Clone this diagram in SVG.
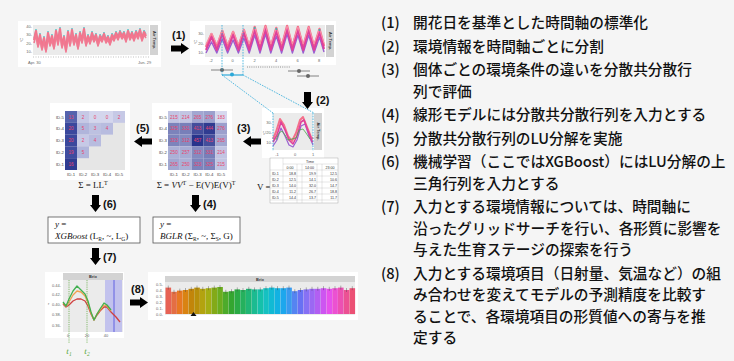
<svg xmlns="http://www.w3.org/2000/svg" width="734" height="361" viewBox="0 0 734 361">
<defs>
<style>
.bg{fill:#f5f5f5}
.panel{fill:#fff}
.plot{fill:#ebebeb}
.strip{fill:#d3d3d3}
.tick{font-family:"Liberation Sans",Arial,sans-serif;font-size:4px;fill:#666}
.stxt{font-family:"Liberation Sans",Arial,sans-serif;font-size:4px;font-weight:bold;fill:#333}
.lbl{font-family:"Liberation Sans",Arial,sans-serif;font-size:11px;font-weight:bold;fill:#111}
.jp{font-family:"Noto Sans CJK JP","Noto Sans CJK SC",sans-serif;font-size:14.7px;font-weight:500;fill:#111}
.cv{font-family:"Liberation Sans",Arial,sans-serif;font-size:4.6px;fill:#e8436c;text-anchor:middle}
.id{font-family:"Liberation Sans",Arial,sans-serif;font-size:4.3px;fill:#444}
.math{font-family:"Liberation Serif","Times New Roman",serif;font-size:9px;fill:#111}
.mi{font-style:italic}
.bdot{stroke:#2ba8d8;stroke-width:0.8;stroke-dasharray:1.6 1.1;fill:none}
.tb{font-family:"Liberation Sans",Arial,sans-serif;font-size:3.6px;fill:#333}
.ln{fill:none;stroke-linejoin:round}
</style>
<path id="arR" d="M0,2.5 H10 V0 L18,5.5 L10,11 V8.5 H0 Z"/>
<path id="arD" d="M2,0 H9 V10 H11 L5.5,17 L0,10 H2 Z"/>
</defs>
<rect class="bg" x="0" y="0" width="734" height="361"/>

<!-- (1) raw time series panel -->
<g id="panel-raw">
<rect class="panel" x="18" y="21" width="143" height="46"/>
<rect class="plot" x="33" y="25" width="116" height="30"/>
<rect class="strip" x="150" y="25" width="8" height="30"/>
<text class="stxt" transform="translate(152.5,40) rotate(90)" text-anchor="middle">Air Temp.</text>
<text class="tick" x="32" y="27.5" text-anchor="end">40-</text>
<text class="tick" x="32" y="36" text-anchor="end">30-</text>
<text class="tick" x="32" y="44.5" text-anchor="end">20-</text>
<text class="tick" x="32" y="53" text-anchor="end">10-</text>
<text class="tick" transform="translate(23,40) rotate(-90)" text-anchor="middle">°C</text>
<polyline class="ln" stroke="#5ec4c9" stroke-width="1" points="34,38 36,29 38,43 40,33 42,46 44,36 46,48 48,31 50,42 52,34 54,45 56,29 58,40 60,27 62,44 64,35 66,48 68,30 70,42 72,28 74,41 76,33 78,45 80,31 82,39 84,27 86,42 88,34 90,40 92,31 94,38 96,33 98,42 100,34 102,38 104,32 106,39 108,35 110,41 112,33 114,37 116,31 118,36 120,30 122,35 124,31 126,38 128,29 130,36 132,31 134,37 136,30 138,35 140,28 142,37 144,30 146,34"/>
<polyline class="ln" stroke="#f4748c" stroke-width="2.2" points="34,40 36,31 38,45 40,35 42,48 44,38 46,50 48,33 50,44 52,36 54,47 56,31 58,42 60,29 62,46 64,37 66,50 68,32 70,44 72,30 74,43 76,35 78,47 80,33 82,41 84,29 86,44 88,36 90,42 92,33 94,40 96,35 98,44 100,36 102,40 104,34 106,41 108,37 110,43 112,35 114,39 116,33 118,38 120,32 122,37 124,33 126,40 128,31 130,38 132,33 134,39 136,32 138,37 140,30 142,39 144,32 146,36"/>
<polyline class="ln" stroke="#f07a92" stroke-width="1.6" points="34,43 36,35 38,47 40,39 42,50 44,41 46,52 48,37 50,46 52,40 54,49 56,35 58,45 60,33 62,48 64,40 66,52 68,36 70,46 72,34 74,45 76,38 78,49 80,37 82,43 84,33 86,46 88,39 90,44 92,37 94,42 96,38 98,46 100,39 102,42 104,37 106,43 108,40 110,45 112,38 114,41 116,36 118,40 120,35 122,39 124,36 126,42 128,34 130,40 132,36 134,41 136,35 138,39 140,33 142,41 144,35 146,38"/>
<line x1="33" y1="57" x2="149" y2="57" stroke="#999" stroke-width="0.6" stroke-dasharray="1 1.5"/>
<text class="tick" x="28" y="64" font-size="5">Apr. 30</text>
<text class="tick" x="138" y="64" font-size="5">Jun. 29</text>
</g>

<!-- (1) aligned panel -->
<g id="panel-aligned">
<rect class="panel" x="190" y="21" width="146" height="44"/>
<rect class="plot" x="205" y="25" width="120" height="32"/>
<rect class="strip" x="326" y="25" width="8" height="32"/>
<text class="stxt" transform="translate(328.5,41) rotate(90)" text-anchor="middle">Air Temp.</text>
<text class="tick" x="204" y="34.5" text-anchor="end">30-</text>
<text class="tick" x="204" y="44.5" text-anchor="end">20-</text>
<text class="tick" x="204" y="53.5" text-anchor="end">10-</text>
<text class="tick" transform="translate(197,42) rotate(-90)" text-anchor="middle">°C</text>
<polyline class="ln" stroke="#9a5fd0" stroke-width="1.4" points="206,53 211.5,42 216.8,53 222.3,39 227.6,53 233.1,40 238.4,53 243.9,38 249.2,53 254.7,35 260,53 265.5,34 270.8,53 276.3,36 281.6,53 287.1,34 292.4,53 297.9,35 303.2,53 308.7,35 314,53 319.5,37 324,52"/>
<polyline class="ln" stroke="#f4708a" stroke-width="2.4" points="206,47 211.5,34 216.8,47 222.3,31 227.6,47 233.1,32 238.4,47 243.9,30 249.2,47 254.7,27 260,47 265.5,26 270.8,47 276.3,28 281.6,47 287.1,26 292.4,47 297.9,27 303.2,47 308.7,27 314,47 319.5,29 324,46"/>
<polyline class="ln" stroke="#e0409a" stroke-width="2" points="206,50 211.5,37 216.8,50 222.3,34 227.6,50 233.1,35 238.4,50 243.9,33 249.2,50 254.7,30 260,50 265.5,29 270.8,50 276.3,31 281.6,50 287.1,29 292.4,50 297.9,30 303.2,50 308.7,30 314,50 319.5,32 324,49"/>
<polyline class="ln" stroke="#f890a8" stroke-width="1" points="206,44 211.5,33 216.8,44 222.3,30 227.6,44 233.1,31 238.4,44 243.9,29 249.2,44 254.7,27 260,44 265.5,26 270.8,44 276.3,28 281.6,44 287.1,26 292.4,44 297.9,27 303.2,44 308.7,27 314,44 319.5,29 324,43"/>
<circle cx="276.3" cy="29" r="1" fill="#35b8b0"/>
<circle cx="319.5" cy="30" r="1" fill="#35b8b0"/>
<circle cx="254.7" cy="28" r="1" fill="#35b8b0"/>
<text class="tick" x="211" y="62" text-anchor="middle" font-size="4.5">-2</text>
<text class="tick" x="232.5" y="62" text-anchor="middle" font-size="4.5">0</text>
<text class="tick" x="254.5" y="62" text-anchor="middle" font-size="4.5">2</text>
<text class="tick" x="276" y="62" text-anchor="middle" font-size="4.5">4</text>
<text class="tick" x="297.5" y="62" text-anchor="middle" font-size="4.5">6</text>
<text class="tick" x="319" y="62" text-anchor="middle" font-size="4.5">8</text>
<line x1="247" y1="67" x2="290" y2="67" stroke="#777" stroke-width="0.8" stroke-dasharray="1 1.2"/>
<line x1="211" y1="70" x2="233" y2="70" stroke="#666" stroke-width="0.8"/>
<circle cx="222" cy="70" r="2" fill="#666"/>
<line x1="288" y1="71" x2="310" y2="71" stroke="#666" stroke-width="0.8"/>
<circle cx="299" cy="71" r="2" fill="#666"/>
<line x1="297" y1="76" x2="319" y2="76" stroke="#666" stroke-width="0.8"/>
<circle cx="308" cy="76" r="2" fill="#666"/>
</g>

<!-- (2) zoomed panel -->
<g id="panel-zoom">
<rect class="panel" x="262" y="108" width="62" height="50"/>
<rect class="plot" x="273" y="113" width="40" height="37"/>
<rect class="strip" x="314" y="113" width="8" height="37"/>
<text class="stxt" transform="translate(316.5,131.5) rotate(90)" text-anchor="middle">Air Temp.</text>
<text class="tick" x="272" y="124" text-anchor="end">30-</text>
<text class="tick" x="272" y="134" text-anchor="end">20-</text>
<text class="tick" x="272" y="144" text-anchor="end">10-</text>
<text class="tick" transform="translate(266,133) rotate(-90)" text-anchor="middle">°C</text>
<polyline class="ln" stroke="#9a5fd0" stroke-width="1.2" points="273,146 277,140 281,128 285,136 289,145 293,147 297,140 301,126 305,124 309,136 313,145"/>
<polyline class="ln" stroke="#f4708a" stroke-width="2" points="273,139 276,132 280,119 284,125 288,136 292,141 296,133 300,120 303,117 307,127 311,137 313,139"/>
<polyline class="ln" stroke="#e0409a" stroke-width="1.6" points="273,142 277,135 281,122 285,130 289,140 293,144 297,136 301,122 304,120 308,131 312,141 313,142"/>
<polyline class="ln" stroke="#4aa84a" stroke-width="0.8" points="276,140 279,133 282,131 285,135 288,140 296,138 299,130 303,129 306,133 310,139"/>
<text class="tick" x="277" y="156" text-anchor="middle" font-size="4.5">-1</text>
<text class="tick" x="295" y="156" text-anchor="middle" font-size="4.5">0</text>
<text class="tick" x="313" y="156" text-anchor="middle" font-size="4.5">1</text>
</g>

<!-- table V -->
<g id="table-V">
<text class="math" x="257" y="190">V =</text>
<rect x="270" y="158" width="68" height="45" fill="#fff" stroke="#999" stroke-width="0.4"/>
<g stroke="#aaa" stroke-width="0.3">
<line x1="283" y1="158" x2="283" y2="203"/>
<line x1="297" y1="164" x2="297" y2="203"/>
<line x1="302" y1="164" x2="302" y2="203"/>
<line x1="317" y1="164" x2="317" y2="203"/>
<line x1="322" y1="164" x2="322" y2="203"/>
<line x1="283" y1="164" x2="338" y2="164"/>
<line x1="270" y1="170" x2="338" y2="170"/>
<line x1="270" y1="176" x2="338" y2="176"/>
<line x1="270" y1="182" x2="338" y2="182"/>
<line x1="270" y1="188" x2="338" y2="188"/>
<line x1="270" y1="194" x2="338" y2="194"/>
<line x1="270" y1="200" x2="338" y2="200"/>
</g>
<text class="tb" x="310" y="162.5" text-anchor="middle">Time</text>
<text class="tb" x="290" y="168.5" text-anchor="middle">0:00</text>
<text class="tb" x="309.5" y="168.5" text-anchor="middle">14:00</text>
<text class="tb" x="330" y="168.5" text-anchor="middle">23:00</text>
<text class="tb" x="272" y="174.5">ID-1</text><text class="tb" x="296" y="174.5" text-anchor="end">18.8</text><text class="tb" x="316" y="174.5" text-anchor="end">19.9</text><text class="tb" x="337" y="174.5" text-anchor="end">12.5</text>
<text class="tb" x="272" y="180.5">ID-2</text><text class="tb" x="296" y="180.5" text-anchor="end">12.5</text><text class="tb" x="316" y="180.5" text-anchor="end">14.1</text><text class="tb" x="337" y="180.5" text-anchor="end">10.6</text>
<text class="tb" x="272" y="186.5">ID-3</text><text class="tb" x="296" y="186.5" text-anchor="end">14.0</text><text class="tb" x="316" y="186.5" text-anchor="end">32.0</text><text class="tb" x="337" y="186.5" text-anchor="end">14.7</text>
<text class="tb" x="272" y="192.5">ID-4</text><text class="tb" x="296" y="192.5" text-anchor="end">11.2</text><text class="tb" x="316" y="192.5" text-anchor="end">26.7</text><text class="tb" x="337" y="192.5" text-anchor="end">18.8</text>
<text class="tb" x="272" y="198.5">ID-5</text><text class="tb" x="296" y="198.5" text-anchor="end">14.4</text><text class="tb" x="316" y="198.5" text-anchor="end">13.7</text><text class="tb" x="337" y="198.5" text-anchor="end">11.7</text>
</g>

<!-- covariance matrix -->
<g id="cov-matrix">
<rect class="panel" x="152" y="103" width="80" height="77"/>
<rect x="168" y="111" width="11.8" height="11.8" fill="#c2c5e3"/><rect x="179.8" y="111" width="11.8" height="11.8" fill="#c2c5e3"/><rect x="191.6" y="111" width="11.8" height="11.8" fill="#a2a7d1"/><rect x="203.4" y="111" width="11.8" height="11.8" fill="#9ba0cd"/><rect x="215.2" y="111" width="11.8" height="11.8" fill="#d6d8ee"/>
<rect x="168" y="122.8" width="11.8" height="11.8" fill="#7c83bb"/><rect x="179.8" y="122.8" width="11.8" height="11.8" fill="#787fb9"/><rect x="191.6" y="122.8" width="11.8" height="11.8" fill="#444e9c"/><rect x="203.4" y="122.8" width="11.8" height="11.8" fill="#303c91"/><rect x="215.2" y="122.8" width="11.8" height="11.8" fill="#9ba0cd"/>
<rect x="168" y="134.6" width="11.8" height="11.8" fill="#7d84bc"/><rect x="179.8" y="134.6" width="11.8" height="11.8" fill="#848bc0"/><rect x="191.6" y="134.6" width="11.8" height="11.8" fill="#28348c"/><rect x="203.4" y="134.6" width="11.8" height="11.8" fill="#444e9c"/><rect x="215.2" y="134.6" width="11.8" height="11.8" fill="#a2a7d1"/>
<rect x="168" y="146.4" width="11.8" height="11.8" fill="#abb0d6"/><rect x="179.8" y="146.4" width="11.8" height="11.8" fill="#a7acd4"/><rect x="191.6" y="146.4" width="11.8" height="11.8" fill="#848bc0"/><rect x="203.4" y="146.4" width="11.8" height="11.8" fill="#787fb9"/><rect x="215.2" y="146.4" width="11.8" height="11.8" fill="#c2c5e3"/>
<rect x="168" y="158.2" width="11.8" height="11.8" fill="#a2a7d1"/><rect x="179.8" y="158.2" width="11.8" height="11.8" fill="#abb0d6"/><rect x="191.6" y="158.2" width="11.8" height="11.8" fill="#7d84bc"/><rect x="203.4" y="158.2" width="11.8" height="11.8" fill="#7c83bb"/><rect x="215.2" y="158.2" width="11.8" height="11.8" fill="#c2c5e3"/>
<text class="cv" x="173.9" y="118.5">215</text><text class="cv" x="185.7" y="118.5">214</text><text class="cv" x="197.5" y="118.5">265</text><text class="cv" x="209.3" y="118.5">276</text><text class="cv" x="221.1" y="118.5">183</text>
<text class="cv" x="173.9" y="130.3">325</text><text class="cv" x="185.7" y="130.3">331</text><text class="cv" x="197.5" y="130.3">413</text><text class="cv" x="209.3" y="130.3">444</text><text class="cv" x="221.1" y="130.3">276</text>
<text class="cv" x="173.9" y="142.1">323</text><text class="cv" x="185.7" y="142.1">312</text><text class="cv" x="197.5" y="142.1">457</text><text class="cv" x="209.3" y="142.1">413</text><text class="cv" x="221.1" y="142.1">265</text>
<text class="cv" x="173.9" y="153.9">250</text><text class="cv" x="185.7" y="153.9">257</text><text class="cv" x="197.5" y="153.9">312</text><text class="cv" x="209.3" y="153.9">331</text><text class="cv" x="221.1" y="153.9">214</text>
<text class="cv" x="173.9" y="165.7">265</text><text class="cv" x="185.7" y="165.7">250</text><text class="cv" x="197.5" y="165.7">323</text><text class="cv" x="209.3" y="165.7">325</text><text class="cv" x="221.1" y="165.7">215</text>
<text class="id" x="167" y="118.5" text-anchor="end">ID-5</text><text class="id" x="167" y="130.3" text-anchor="end">ID-4</text><text class="id" x="167" y="142.1" text-anchor="end">ID-3</text><text class="id" x="167" y="153.9" text-anchor="end">ID-2</text><text class="id" x="167" y="165.7" text-anchor="end">ID-1</text>
<text class="id" x="173.9" y="176" text-anchor="middle">ID-1</text><text class="id" x="185.7" y="176" text-anchor="middle">ID-2</text><text class="id" x="197.5" y="176" text-anchor="middle">ID-3</text><text class="id" x="209.3" y="176" text-anchor="middle">ID-4</text><text class="id" x="221.1" y="176" text-anchor="middle">ID-5</text>
<text class="math" x="196" y="188" text-anchor="middle">Σ = <tspan class="mi">VV</tspan><tspan font-size="6" dy="-3">T</tspan><tspan dy="3"> − E(V)E(V)</tspan><tspan font-size="6" dy="-3">T</tspan></text>
</g>

<!-- LU matrix -->
<g id="lu-matrix">
<rect class="panel" x="50" y="103" width="80" height="77"/>
<rect x="65" y="111" width="60" height="59" fill="#e6e6e6"/>
<rect x="65" y="111" width="12" height="11.8" fill="#5563ad"/><rect x="77" y="111" width="12" height="11.8" fill="#c6c9e6"/><rect x="89" y="111" width="12" height="11.8" fill="#d4d6ed"/><rect x="101" y="111" width="12" height="11.8" fill="#d4d6ed"/><rect x="113" y="111" width="12" height="11.8" fill="#c6c9e6"/>
<rect x="65" y="122.8" width="12" height="11.8" fill="#3a489d"/><rect x="77" y="122.8" width="12" height="11.8" fill="#b0b5db"/><rect x="89" y="122.8" width="12" height="11.8" fill="#bdc1e1"/><rect x="101" y="122.8" width="12" height="11.8" fill="#b8bcdf"/>
<rect x="65" y="134.6" width="12" height="11.8" fill="#3a489d"/><rect x="77" y="134.6" width="12" height="11.8" fill="#c6c9e6"/><rect x="89" y="134.6" width="12" height="11.8" fill="#b8bcdf"/>
<rect x="65" y="146.4" width="12" height="11.8" fill="#3f4da0"/><rect x="77" y="146.4" width="12" height="11.8" fill="#b0b5db"/>
<rect x="65" y="158.2" width="12" height="11.8" fill="#2f3c92"/>
<text class="cv" x="71" y="118.5">13</text><text class="cv" x="83" y="118.5">2</text><text class="cv" x="95" y="118.5">0</text><text class="cv" x="107" y="118.5">0</text><text class="cv" x="119" y="118.5">2</text>
<text class="cv" x="71" y="130.3">20</text><text class="cv" x="83" y="130.3">5</text><text class="cv" x="95" y="130.3">3</text><text class="cv" x="107" y="130.3">4</text>
<text class="cv" x="71" y="142.1">20</text><text class="cv" x="83" y="142.1">2</text><text class="cv" x="95" y="142.1">4</text>
<text class="cv" x="71" y="153.9">19</text><text class="cv" x="83" y="153.9">5</text>
<text class="cv" x="71" y="165.7">16</text>
<text class="id" x="64" y="118.5" text-anchor="end">ID-5</text><text class="id" x="64" y="130.3" text-anchor="end">ID-4</text><text class="id" x="64" y="142.1" text-anchor="end">ID-3</text><text class="id" x="64" y="153.9" text-anchor="end">ID-2</text><text class="id" x="64" y="165.7" text-anchor="end">ID-1</text>
<text class="id" x="71" y="176" text-anchor="middle">ID-1</text><text class="id" x="83" y="176" text-anchor="middle">ID-2</text><text class="id" x="95" y="176" text-anchor="middle">ID-3</text><text class="id" x="107" y="176" text-anchor="middle">ID-4</text><text class="id" x="119" y="176" text-anchor="middle">ID-5</text>
<text class="math" x="93" y="188" text-anchor="middle">Σ = LL<tspan font-size="6" dy="-3">T</tspan></text>
</g>

<!-- model boxes -->
<g id="box-xgboost">
<rect x="48" y="217" width="92" height="26" fill="#fff" stroke="#555" stroke-width="0.8"/>
<text class="math" x="55" y="227"><tspan class="mi">y</tspan> =</text>
<text class="math" x="55" y="239"><tspan class="mi">XGBoost</tspan> (L<tspan font-size="5.5" dy="2">R</tspan><tspan dy="-2">, ~, L</tspan><tspan font-size="5.5" dy="2">G</tspan><tspan dy="-2">)</tspan></text>
</g>
<g id="box-bglr">
<rect x="153" y="217" width="87" height="26" fill="#fff" stroke="#555" stroke-width="0.8"/>
<text class="math" x="160" y="227"><tspan class="mi">y</tspan> =</text>
<text class="math" x="160" y="239"><tspan class="mi">BGLR</tspan> (Σ<tspan font-size="5.5" dy="2">R</tspan><tspan dy="-2">, ~, Σ</tspan><tspan font-size="5.5" dy="2">S</tspan><tspan dy="-2">, G)</tspan></text>
</g>

<!-- Brix line chart -->
<g id="panel-brix-line">
<rect class="panel" x="45" y="272" width="79" height="66"/>
<rect class="strip" x="63" y="273" width="60" height="7"/>
<text class="stxt" x="93" y="278" text-anchor="middle">Brix</text>
<rect class="plot" x="63" y="280" width="60" height="52"/>
<rect x="105" y="280" width="17" height="52" fill="#b8b8ee" opacity="0.8"/>
<line x1="114" y1="280" x2="114" y2="332" stroke="#4a4ae0" stroke-width="0.8"/>
<text class="tick" x="61" y="286.5" text-anchor="end">0.44-</text>
<text class="tick" x="61" y="296" text-anchor="end">0.42-</text>
<text class="tick" x="61" y="305.5" text-anchor="end">0.40-</text>
<text class="tick" x="61" y="315.5" text-anchor="end">0.38-</text>
<text class="tick" x="61" y="326.5" text-anchor="end">0.36-</text>
<text class="tick" x="48" y="305">r</text>
<polyline class="ln" stroke="#d04040" stroke-width="1.3" points="63,304 66,307 69,305 73,301 77,299 81,299 85,301 88,306 91,314 94,320 97,315 100,311 104,307 107,307 111,312 116,317 120,322"/>
<polyline class="ln" stroke="#f0a050" stroke-width="1.3" points="63,303 66,306 69,302 73,295 77,291 81,292 85,296 88,303 91,313 94,320 97,314 100,310 104,305 107,306 111,311"/>
<polyline class="ln" stroke="#40b050" stroke-width="1.3" points="63,302 66,306 69,299 73,291 77,286 81,290 85,294 88,301 91,312 94,320 97,314 100,309 104,303 107,305 111,310"/>
<line x1="69" y1="280" x2="69" y2="343" stroke="#5aa83a" stroke-width="0.7" stroke-dasharray="1.2 1"/>
<line x1="87" y1="280" x2="87" y2="343" stroke="#5aa83a" stroke-width="0.7" stroke-dasharray="1.2 1"/>
<text class="tick" x="68" y="337" text-anchor="middle">0</text>
<text class="tick" x="87" y="337" text-anchor="middle">20</text>
<text class="tick" x="106" y="337" text-anchor="middle">40</text>
<text x="69" y="354" font-family="Liberation Serif,serif" font-style="italic" font-size="9" fill="#5aa83a" text-anchor="middle">t<tspan font-size="5.5" dy="2">1</tspan></text>
<text x="87" y="354" font-family="Liberation Serif,serif" font-style="italic" font-size="9" fill="#5aa83a" text-anchor="middle">t<tspan font-size="5.5" dy="2">2</tspan></text>
</g>

<!-- Brix bar chart -->
<g id="panel-brix-bar">
<rect class="panel" x="148" y="272" width="210" height="48"/>
<rect class="strip" x="165" y="276" width="190" height="6"/>
<text class="stxt" x="260" y="280.5" text-anchor="middle">Brix</text>
<rect class="plot" x="165" y="282" width="190" height="33"/>
<text class="tick" x="163" y="285.5" text-anchor="end" font-size="3.5">0.5-</text>
<text class="tick" x="163" y="291.5" text-anchor="end" font-size="3.5">0.4-</text>
<text class="tick" x="163" y="297.5" text-anchor="end" font-size="3.5">0.3-</text>
<text class="tick" x="163" y="303.5" text-anchor="end" font-size="3.5">0.2-</text>
<text class="tick" x="163" y="309.5" text-anchor="end" font-size="3.5">0.1-</text>
<text class="tick" x="163" y="315.5" text-anchor="end" font-size="3.5">0.0-</text>
<g>
<rect x="165.5" y="287.6" width="5.6" height="26.4" fill="hsl(5,75%,62%)"/>
<rect x="171.25" y="291.8" width="5.6" height="22.2" fill="hsl(16,75%,58%)"/>
<rect x="177" y="290.6" width="5.6" height="23.4" fill="hsl(26,80%,52%)"/>
<rect x="182.75" y="290" width="5.6" height="24" fill="hsl(34,85%,46%)"/>
<rect x="188.5" y="288.8" width="5.6" height="25.2" fill="hsl(40,90%,40%)"/>
<rect x="194.25" y="287.6" width="5.6" height="26.4" fill="hsl(46,90%,38%)"/>
<rect x="200" y="288.8" width="5.6" height="25.2" fill="hsl(54,85%,38%)"/>
<rect x="205.75" y="288.2" width="5.6" height="25.8" fill="hsl(64,80%,38%)"/>
<rect x="211.5" y="287.6" width="5.6" height="26.4" fill="hsl(76,75%,38%)"/>
<rect x="217.25" y="287" width="5.6" height="27" fill="hsl(88,70%,40%)"/>
<rect x="223" y="291.8" width="5.6" height="22.2" fill="hsl(104,60%,42%)"/>
<rect x="228.75" y="291.2" width="5.6" height="22.8" fill="hsl(118,55%,42%)"/>
<rect x="234.5" y="289.4" width="5.6" height="24.6" fill="hsl(132,60%,42%)"/>
<rect x="240.25" y="290" width="5.6" height="24" fill="hsl(144,65%,42%)"/>
<rect x="246" y="288.8" width="5.6" height="25.2" fill="hsl(154,70%,42%)"/>
<rect x="251.75" y="289.4" width="5.6" height="24.6" fill="hsl(164,75%,42%)"/>
<rect x="257.5" y="289.4" width="5.6" height="24.6" fill="hsl(172,80%,42%)"/>
<rect x="263.25" y="288.2" width="5.6" height="25.8" fill="hsl(180,80%,42%)"/>
<rect x="269" y="287.6" width="5.6" height="26.4" fill="hsl(188,85%,45%)"/>
<rect x="274.75" y="288.2" width="5.6" height="25.8" fill="hsl(194,85%,48%)"/>
<rect x="280.5" y="288.2" width="5.6" height="25.8" fill="hsl(200,85%,52%)"/>
<rect x="286.25" y="287.6" width="5.6" height="26.4" fill="hsl(208,85%,58%)"/>
<rect x="292" y="291.2" width="5.6" height="22.8" fill="hsl(222,85%,64%)"/>
<rect x="297.75" y="290" width="5.6" height="24" fill="hsl(236,85%,68%)"/>
<rect x="303.5" y="289.4" width="5.6" height="24.6" fill="hsl(250,85%,70%)"/>
<rect x="309.25" y="288.8" width="5.6" height="25.2" fill="hsl(262,85%,68%)"/>
<rect x="315" y="288.8" width="5.6" height="25.2" fill="hsl(274,85%,66%)"/>
<rect x="320.75" y="288.2" width="5.6" height="25.8" fill="hsl(286,85%,64%)"/>
<rect x="326.5" y="288.8" width="5.6" height="25.2" fill="hsl(298,80%,62%)"/>
<rect x="332.25" y="288.2" width="5.6" height="25.8" fill="hsl(310,80%,62%)"/>
<rect x="338" y="287.6" width="5.6" height="26.4" fill="hsl(322,80%,62%)"/>
<rect x="343.75" y="290" width="5.6" height="24" fill="hsl(334,80%,62%)"/>
<rect x="349.5" y="288.2" width="5.6" height="25.8" fill="hsl(346,80%,62%)"/>
</g>
<path stroke="#444" stroke-width="0.4" fill="none" d="M168.3,285.6v4M174,289.8v4M179.8,288.6v4M185.5,288v4M191.3,286.8v4M197,285.6v4M202.8,286.8v4M208.5,286.2v4M214.3,285.6v4M220,285v4M225.8,289.8v4M231.5,289.2v4M237.3,287.4v4M243,288v4M248.8,286.8v4M254.5,287.4v4M260.3,287.4v4M266,286.2v4M271.8,285.6v4M277.5,286.2v4M283.3,286.2v4M289,285.6v4M294.8,289.2v4M300.5,288v4M306.3,287.4v4M312,286.8v4M317.8,286.8v4M323.5,286.2v4M329.3,286.8v4M335,286.2v4M340.8,285.6v4M346.5,288v4M352.3,286.2v4"/>
<path d="M190.5,316 L193.5,312 L196.5,316 Z" fill="#111"/>
</g>

<!-- connectors: step arrows and zoom guides -->
<g id="connectors">
<line class="bdot" x1="222" y1="25" x2="222" y2="75"/>
<line class="bdot" x1="243" y1="25" x2="243" y2="75"/>
<line x1="222" y1="75" x2="243" y2="75" stroke="#2ba8d8" stroke-width="1.2"/>
<circle cx="232" cy="74.5" r="2" fill="#2ba8d8"/>
<line class="bdot" x1="222" y1="75" x2="273" y2="113"/>
<line class="bdot" x1="243" y1="75" x2="314" y2="113"/>
<line class="bdot" x1="273" y1="113" x2="273" y2="151"/>
<line class="bdot" x1="313" y1="113" x2="313" y2="151"/>
<use href="#arR" x="171" y="43"/>
<use href="#arD" x="302" y="92"/>
<use href="#arR" transform="translate(261,136) scale(-1,1)"/>
<use href="#arR" transform="translate(152,136) scale(-1,1)"/>
<use href="#arD" x="90" y="195"/>
<use href="#arD" x="190" y="195"/>
<use href="#arD" x="90" y="248"/>
<use href="#arR" x="130" y="297"/>
</g>

<g id="step-labels">
<text class="lbl" x="172" y="39">(1)</text>
<text class="lbl" x="316" y="104">(2)</text>
<text class="lbl" x="237" y="132">(3)</text>
<text class="lbl" x="136" y="132">(5)</text>
<text class="lbl" x="103" y="208">(6)</text>
<text class="lbl" x="203" y="208">(4)</text>
<text class="lbl" x="103" y="261">(7)</text>
<text class="lbl" x="131" y="293">(8)</text>
</g>

<!-- legend text -->
<g id="legend-text" class="jp">
<text x="381" y="28.3">(1)</text><text x="413" y="28.3">開花日を基準とした時間軸の標準化</text>
<text x="381" y="51.8">(2)</text><text x="413" y="51.8">環境情報を時間軸ごとに分割</text>
<text x="381" y="75.3">(3)</text><text x="413" y="75.3">個体ごとの環境条件の違いを分散共分散行</text>
<text x="413" y="96.8">列で評価</text>
<text x="381" y="120.3">(4)</text><text x="413" y="120.3">線形モデルには分散共分散行列を入力とする</text>
<text x="381" y="143.8">(5)</text><text x="413" y="143.8">分散共分散行列のLU分解を実施</text>
<text x="381" y="167.3">(6)</text><text x="413" y="167.3">機械学習（ここではXGBoost）にはLU分解の上</text>
<text x="413" y="188.8">三角行列を入力とする</text>
<text x="381" y="212.3">(7)</text><text x="413" y="212.3">入力とする環境情報については、時間軸に</text>
<text x="413" y="233.8">沿ったグリッドサーチを行い、各形質に影響を</text>
<text x="413" y="255.3">与えた生育ステージの探索を行う</text>
<text x="381" y="278.8">(8)</text><text x="413" y="278.8">入力とする環境項目（日射量、気温など）の組</text>
<text x="413" y="300.3">み合わせを変えてモデルの予測精度を比較す</text>
<text x="413" y="321.8">ることで、各環境項目の形質値への寄与を推</text>
<text x="413" y="343.3">定する</text>
</g>
</svg>
